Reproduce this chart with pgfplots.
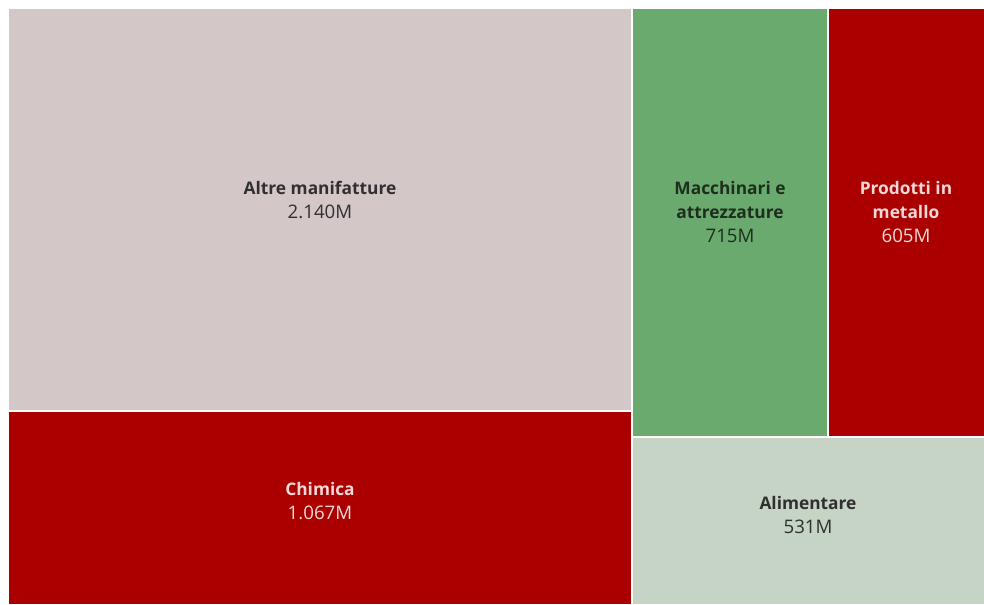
\documentclass[border=0pt]{standalone}
\usepackage{fontspec}
\setmainfont{Open Sans}
\usepackage{pgfplots}
\pgfplotsset{compat=1.18}
\definecolor{cpink}{HTML}{D4C7C8}
\definecolor{cred}{HTML}{AA0000}
\definecolor{cgreen}{HTML}{6AAA6E}
\definecolor{clight}{HTML}{C5D4C5}
\definecolor{tdark}{HTML}{303030}
\definecolor{tgreen}{HTML}{1E2E1E}
\definecolor{tlight}{HTML}{F6D8D8}
\newcommand{\tl}[1]{{\fontsize{13}{18}\selectfont\bfseries #1}}
\newcommand{\vl}[1]{{\fontsize{14}{18}\selectfont #1}}
\begin{document}
\begin{tikzpicture}
\begin{axis}[
  scale only axis, width=738pt, height=453pt,
  xmin=0, xmax=984, ymin=0, ymax=604,
  hide axis, clip=false,
  every node near coord/.append style={align=center, font=\fontsize{13}{18}\selectfont, anchor=center},
]
% invisible frame to keep full canvas
\addplot[draw=none, mark=none] coordinates {(0,0) (984,604)};
% rectangles (treemap tiles, pixel units)
\addplot[fill=cpink, draw=none] coordinates {(9,194) (631,194) (631,595) (9,595)} -- cycle;
\addplot[fill=cred, draw=none] coordinates {(9,0) (631,0) (631,192) (9,192)} -- cycle;
\addplot[fill=cgreen, draw=none] coordinates {(633,168) (827,168) (827,595) (633,595)} -- cycle;
\addplot[fill=cred, draw=none] coordinates {(829,168) (984,168) (984,595) (829,595)} -- cycle;
\addplot[fill=clight, draw=none] coordinates {(633,0) (984,0) (984,166) (633,166)} -- cycle;
% labels
\addplot[only marks, mark=none, nodes near coords, point meta=explicit symbolic,
  every node near coord/.append style={text=tdark}]
  coordinates {(320,404) [\tl{Altre manifatture}\\\vl{2.140M}]};
\addplot[only marks, mark=none, nodes near coords, point meta=explicit symbolic,
  every node near coord/.append style={text=tlight}]
  coordinates {(320,103) [\tl{Chimica}\\\vl{1.067M}]};
\addplot[only marks, mark=none, nodes near coords, point meta=explicit symbolic,
  every node near coord/.append style={text=tgreen}]
  coordinates {(730,392) [\tl{Macchinari e}\\\tl{attrezzature}\\\vl{715M}]};
\addplot[only marks, mark=none, nodes near coords, point meta=explicit symbolic,
  every node near coord/.append style={text=tlight}]
  coordinates {(906,392) [\tl{Prodotti in}\\\tl{metallo}\\\vl{605M}]};
\addplot[only marks, mark=none, nodes near coords, point meta=explicit symbolic,
  every node near coord/.append style={text=tdark}]
  coordinates {(808,89) [\tl{Alimentare}\\\vl{531M}]};
\end{axis}
\end{tikzpicture}
\end{document}
